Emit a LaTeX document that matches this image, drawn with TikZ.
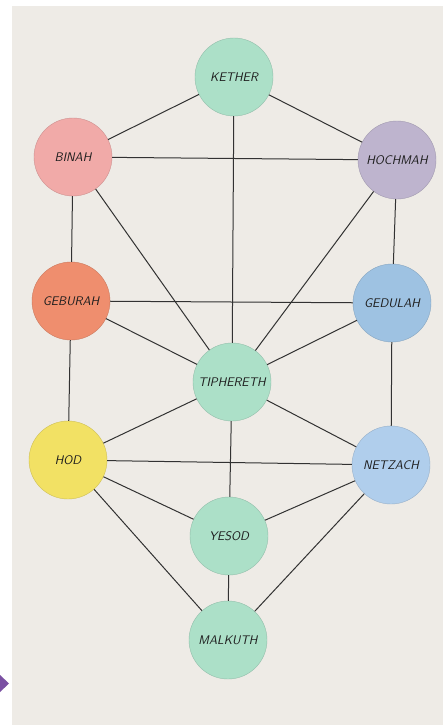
\documentclass[tikz,border=0pt]{standalone}
\usepackage{xcolor}
\usepackage{tikz}
\usetikzlibrary{positioning,calc}
\definecolor{paper}{RGB}{238,235,230}
\definecolor{mint}{RGB}{172,224,200}
\definecolor{rose}{RGB}{241,170,168}
\definecolor{lilac}{RGB}{190,180,206}
\definecolor{salmon}{RGB}{239,142,110}
\definecolor{sky}{RGB}{158,194,226}
\definecolor{pale}{RGB}{176,206,236}
\definecolor{sun}{RGB}{242,225,100}
\definecolor{ink}{RGB}{50,50,50}
\definecolor{pen}{RGB}{30,30,30}
\definecolor{marker}{RGB}{122,80,162}
\begin{document}
\begin{tikzpicture}[x=1pt,y=-1pt,
  sephira/.style={circle,minimum size=78pt,inner sep=0pt,fill=#1,draw=#1!85!black,line width=0.4pt,
    text=pen,font=\sffamily\itshape\fontsize{12.5}{12.5}\selectfont},
  link/.style={line width=1pt,draw=ink}]
\useasboundingbox (0,0) rectangle (443,725);
\fill[white] (0,0) rectangle (443,725);
\fill[paper] (12,6) rectangle (443,725);
\fill[marker] (0,675) -- (9,683.5) -- (0,692) -- cycle;
% the ten circles
\node[sephira=mint]   (kether)    at (234,77)  {KETHER};
\node[sephira=rose]   (binah)     at (73,157)  {BINAH};
\node[sephira=lilac]  (hochmah)   at (397,160) {HOCHMAH};
\node[sephira=salmon] (geburah)   at (71,301)  {GEBURAH};
\node[sephira=sky]    (gedulah)   at (392,303) {GEDULAH};
\node[sephira=mint]   (tiphereth) at (232,382) {TIPHERETH};
\node[sephira=sun]    (hod)       at (68,460)  {HOD};
\node[sephira=pale]   (netzach)   at (391,465) {NETZACH};
\node[sephira=mint]   (yesod)     at (229,536) {YESOD};
\node[sephira=mint]   (malkuth)   at (228,640) {MALKUTH};
% paths
\foreach \a/\b in {kether/binah,kether/hochmah,kether/tiphereth,binah/hochmah,binah/geburah,binah/tiphereth,
  hochmah/gedulah,hochmah/tiphereth,geburah/gedulah,geburah/tiphereth,gedulah/tiphereth,geburah/hod,
  gedulah/netzach,tiphereth/hod,tiphereth/netzach,tiphereth/yesod,hod/netzach,hod/yesod,netzach/yesod,
  hod/malkuth,netzach/malkuth,yesod/malkuth}
  \draw[link] (\a) -- (\b);
\end{tikzpicture}
\end{document}
